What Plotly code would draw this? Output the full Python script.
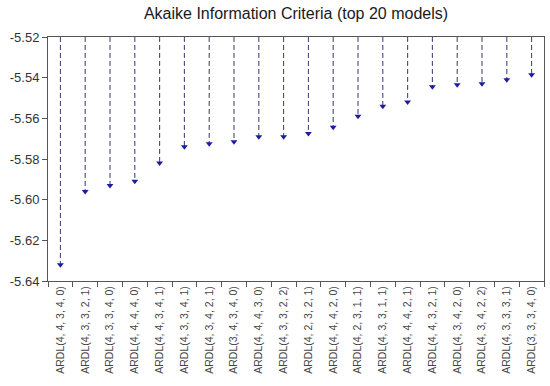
import plotly.graph_objects as go

models = [
    "ARDL(4, 4, 3, 4, 0)", "ARDL(4, 3, 3, 2, 1)", "ARDL(4, 3, 3, 4, 0)",
    "ARDL(4, 4, 4, 4, 0)", "ARDL(4, 4, 3, 4, 1)", "ARDL(4, 3, 3, 4, 1)",
    "ARDL(4, 3, 4, 2, 1)", "ARDL(3, 4, 3, 4, 0)", "ARDL(4, 4, 4, 3, 0)",
    "ARDL(4, 3, 3, 2, 2)", "ARDL(4, 2, 3, 2, 1)", "ARDL(4, 4, 4, 2, 0)",
    "ARDL(4, 2, 3, 1, 1)", "ARDL(4, 3, 3, 1, 1)", "ARDL(4, 4, 4, 2, 1)",
    "ARDL(4, 4, 3, 2, 1)", "ARDL(4, 3, 4, 2, 0)", "ARDL(4, 3, 4, 2, 2)",
    "ARDL(4, 3, 3, 3, 1)", "ARDL(3, 3, 3, 4, 0)",
]
aic = [
    -5.632, -5.596, -5.593, -5.591, -5.582, -5.574, -5.5725, -5.5715,
    -5.569, -5.569, -5.5674, -5.5644, -5.559, -5.554, -5.552, -5.5445,
    -5.5435, -5.543, -5.541, -5.5386,
]
y_ticks = [-5.64, -5.62, -5.60, -5.58, -5.56, -5.54, -5.52]
y_range = [-5.64, -5.52]

font = "Arial, Liberation Sans, sans-serif"

# dashed drop lines from the top of the axis down to each value
lx, ly = [], []
for m, v in zip(models, aic):
    lx += [m, m, None]
    ly += [y_range[1], v, None]

fig = go.Figure()
fig.add_trace(go.Scatter(
    x=lx, y=ly, mode="lines",
    line=dict(color="#4a4a86", width=1.1, dash="5px,3px"),
    hoverinfo="skip", showlegend=False,
))
fig.add_trace(go.Scatter(
    x=models, y=aic, mode="markers",
    marker=dict(symbol="triangle-down", size=6, color="#1c1ca0"),
    showlegend=False,
))

fig.update_layout(
    width=550, height=386,
    margin=dict(l=48, r=6, t=37, b=105, autoexpand=False),
    paper_bgcolor="white", plot_bgcolor="white",
    title=dict(text="Akaike Information Criteria (top 20 models)",
               x=0.5, xref="paper", xanchor="center",
               y=1 - 13 / 386, yanchor="middle",
               font=dict(family=font, size=16, color="#1a1a1a")),
    font=dict(family=font, color="#333"),
)
fig.update_xaxes(
    type="category", categoryorder="array", categoryarray=models,
    tickangle=-90, tickfont=dict(size=10.5, color="#444"),
    showline=True, linecolor="#555", linewidth=1, mirror=True,
    ticks="outside", ticklen=5, tickcolor="#555", tickson="boundaries",
    showgrid=False, zeroline=False, automargin=False,
    range=[-0.5, len(models) - 0.5],
)
fig.update_yaxes(
    range=y_range, tickvals=y_ticks,
    ticktext=[f"{t:.2f}" for t in y_ticks],
    tickfont=dict(size=13, color="#333"),
    showline=True, linecolor="#555", linewidth=1, mirror=True,
    ticks="outside", ticklen=5, tickcolor="#555",
    showgrid=False, zeroline=False, automargin=False,
)

fig.write_html("out.html", config={"displayModeBar": False},
               post_script="document.body.style.margin='0';")
